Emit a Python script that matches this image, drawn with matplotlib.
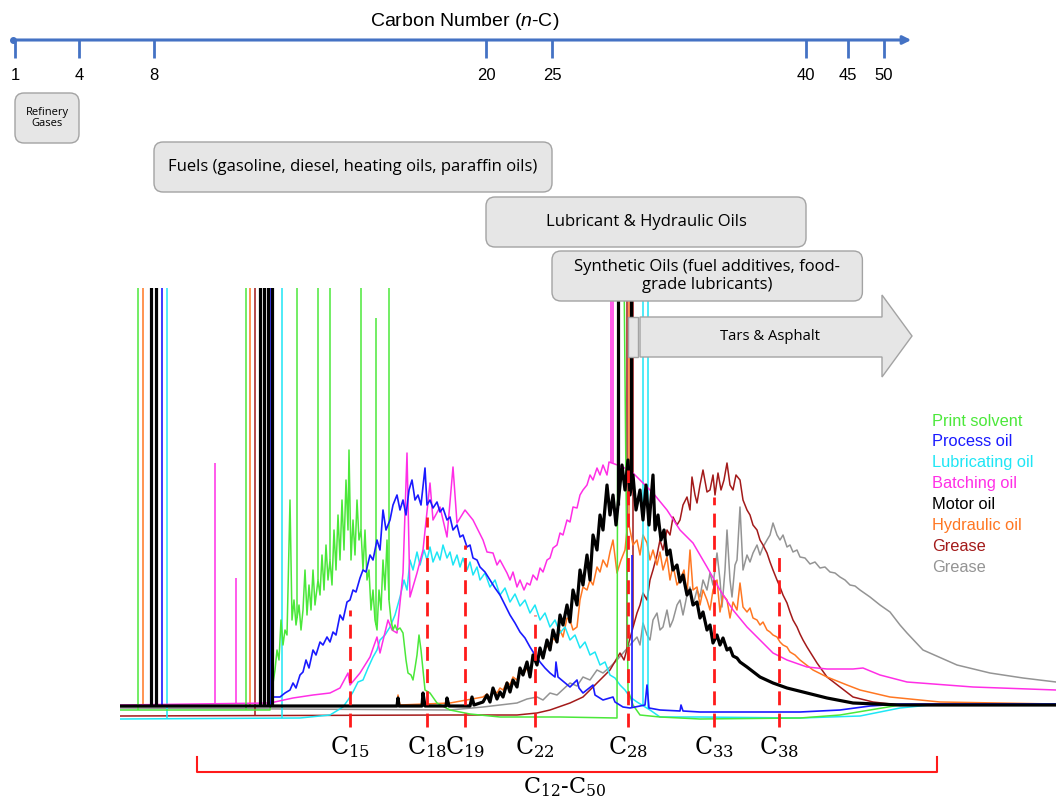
import matplotlib.pyplot as plt
import numpy as np
from matplotlib.patches import FancyBboxPatch, Polygon, Rectangle, FancyArrowPatch

plt.rcParams['font.family'] = ['Liberation Sans', 'DejaVu Sans']
plt.rcParams['mathtext.fontset'] = 'custom'
plt.rcParams['mathtext.rm'] = 'Liberation Sans'
plt.rcParams['mathtext.it'] = 'Liberation Sans:italic'

# carbon number scale along the top
carbon_ticks = [1, 4, 8, 20, 25, 40, 45, 50]
tick_px = [15, 79, 154, 486, 552, 806, 848, 884]

# product classes and their carbon ranges
products = ['Refinery\nGases',
            'Fuels (gasoline, diesel, heating oils, paraffin oils)',
            'Lubricant & Hydraulic Oils',
            'Synthetic Oils (fuel additives, food-\ngrade lubricants)']
prod_start = [1, 8, 20, 25]
prod_end = [4, 25, 40, 47]

# chromatogram traces (retention, response)
green_t = [120, 270, 272, 275, 277, 279, 281, 283, 285, 287, 290, 292, 294, 296, 299, 301, 303, 305, 307, 309,
           311, 313, 315, 318, 320, 322, 324, 326, 328, 330, 332, 334, 336, 338, 340, 342, 344, 346, 348, 349,
           351, 353, 355, 357, 359, 361, 363, 365, 367, 369, 371, 373, 375, 377, 379, 381, 383, 385, 387, 389,
           391, 393, 395, 397, 400, 403, 406, 408, 411, 413, 415, 417, 419, 421, 423, 425, 430, 437, 450, 470,
           500, 560, 617, 618, 624, 628, 633, 640, 660, 700, 800, 840, 870, 900, 1056]
green_r = [20, 20, 40, 60, 80, 70, 110, 85, 100, 95, 230, 110, 130, 105, 125, 100, 120, 160, 115, 145,
           120, 160, 125, 150, 135, 175, 140, 185, 150, 170, 145, 200, 160, 215, 170, 230, 180, 250, 200, 280,
           170, 210, 175, 230, 190, 200, 160, 200, 150, 160, 120, 140, 110, 100, 140, 120, 170, 140, 190, 130,
           110, 100, 105, 100, 102, 97, 70, 57, 55, 50, 62, 75, 95, 80, 60, 40, 37, 27, 20, 16,
           13, 13, 12, 460, 460, 40, 25, 15, 13, 11, 12, 15, 20, 25, 26]

blue_t = [120, 270, 273, 280, 285, 290, 293, 296, 300, 303, 306, 309, 313, 316, 320, 323, 327, 330, 333, 336,
          340, 343, 347, 350, 353, 356, 360, 363, 366, 370, 373, 377, 380, 383, 386, 390, 393, 397, 400, 403,
          406, 409, 412, 415, 418, 421, 425, 427, 430, 433, 437, 440, 443, 447, 450, 453, 457, 460, 463, 467,
          470, 473, 477, 480, 485, 490, 495, 500, 505, 510, 515, 520, 525, 530, 535, 540, 545, 550, 555, 556,
          558, 570, 577, 579, 583, 593, 595, 603, 613, 615, 623, 630, 645, 647, 649, 660, 680, 681, 683, 700,
          800, 840, 870, 900, 1056]
blue_r = [24, 24, 33, 33, 37, 40, 47, 42, 55, 58, 70, 62, 80, 75, 88, 85, 93, 88, 98, 95,
          115, 110, 128, 130, 140, 138, 152, 160, 158, 175, 170, 190, 180, 220, 200, 210, 225, 235, 220, 230,
          215, 240, 250, 230, 235, 225, 262, 225, 230, 222, 228, 218, 222, 210, 213, 200, 205, 193, 195, 183,
          185, 172, 170, 163, 158, 150, 142, 135, 125, 115, 107, 98, 92, 83, 75, 68, 62, 57, 53, 68,
          53, 43, 50, 42, 37, 45, 35, 30, 33, 28, 23, 22, 25, 45, 22, 20, 19, 25, 19, 18,
          18, 20, 24, 26, 26]

cyan_t = [120, 300, 330, 343, 348, 353, 358, 363, 368, 373, 377, 380, 385, 390, 395, 400, 404, 407, 410, 413,
          417, 420, 424, 427, 430, 433, 437, 440, 443, 447, 450, 453, 457, 460, 463, 467, 470, 473, 477, 480,
          485, 490, 495, 500, 505, 510, 515, 520, 525, 530, 535, 540, 545, 550, 555, 560, 565, 570, 575, 580,
          585, 590, 595, 600, 605, 610, 615, 620, 625, 630, 637, 650, 660, 700, 800, 860, 900, 930, 1056]
cyan_r = [11, 12, 15, 23, 30, 38, 48, 50, 62, 73, 80, 90, 95, 103, 115, 133, 150, 140, 170, 160,
          178, 165, 180, 170, 183, 168, 178, 170, 185, 172, 178, 165, 175, 163, 172, 160, 168, 155, 163, 150,
          157, 143, 150, 135, 142, 128, 136, 124, 130, 117, 125, 110, 117, 103, 110, 97, 103, 90, 95, 82,
          88, 75, 78, 65, 68, 55, 52, 45, 40, 33, 28, 20, 13, 13, 12, 14, 22, 25, 26]

magenta_t = [120, 270, 293, 313, 330, 340, 348, 350, 360, 370, 377, 380, 388, 392, 397, 403, 407, 410, 417, 423,
             430, 433, 440, 447, 453, 457, 465, 473, 483, 487, 493, 497, 500, 507, 510, 513, 517, 520, 524, 527,
             530, 533, 537, 540, 543, 547, 550, 553, 557, 560, 563, 567, 570, 573, 577, 580, 583, 587, 590, 593,
             597, 600, 603, 607, 609, 623, 633, 640, 653, 667, 680, 693, 707, 720, 733, 747, 760, 773, 787, 807,
             827, 853, 863, 880, 907, 973, 1056]
magenta_r = [25, 27, 32, 35, 37, 42, 57, 45, 57, 73, 93, 77, 110, 100, 97, 157, 277, 133, 157, 180,
             247, 210, 223, 193, 263, 207, 220, 210, 190, 178, 177, 165, 170, 157, 150, 158, 143, 150, 140, 147,
             145, 155, 150, 162, 158, 170, 172, 182, 185, 197, 195, 210, 208, 223, 222, 235, 240, 245, 255, 250,
             262, 255, 265, 255, 268, 263, 257, 250, 237, 220, 200, 187, 163, 140, 120, 103, 90, 77, 70, 63,
             61, 61, 62, 55, 48, 43, 40]

black_t = [120, 397, 398, 399, 422, 423, 425, 446, 447, 449, 470, 472, 474, 483, 487, 490, 493, 497, 500, 503,
           507, 510, 513, 517, 520, 523, 527, 530, 533, 537, 540, 543, 547, 550, 553, 557, 560, 563, 567, 570,
           573, 577, 580, 583, 587, 590, 593, 597, 600, 603, 607, 610, 613, 616, 622, 625, 628, 630, 633, 636,
           640, 643, 646, 649, 653, 655, 658, 661, 664, 667, 670, 673, 677, 680, 683, 687, 690, 693, 697, 700,
           703, 707, 710, 713, 717, 720, 723, 727, 730, 733, 737, 740, 747, 760, 773, 787, 807, 827, 853, 900,
           1056]
black_r = [24, 24, 32, 24, 24, 37, 24, 24, 32, 24, 24, 33, 25, 28, 35, 28, 42, 31, 38, 33,
           47, 38, 50, 43, 62, 55, 68, 53, 75, 65, 82, 72, 90, 80, 100, 88, 115, 105, 125, 108,
           140, 125, 160, 145, 175, 150, 195, 180, 215, 200, 245, 215, 235, 205, 265, 240, 270, 235, 255, 220,
           240, 210, 245, 205, 255, 200, 215, 190, 200, 175, 180, 160, 165, 148, 155, 135, 140, 125, 128, 112,
           118, 100, 105, 87, 95, 85, 92, 80, 82, 74, 72, 68, 63, 53, 47, 42, 37, 32, 27, 25,
           25]

orange_t = [120, 397, 398, 400, 450, 483, 487, 490, 493, 497, 500, 503, 507, 510, 513, 517, 520, 523, 527, 530,
            533, 537, 540, 543, 547, 550, 553, 557, 560, 563, 567, 570, 573, 577, 580, 583, 587, 590, 593, 597,
            600, 603, 607, 610, 613, 617, 621, 625, 628, 630, 633, 637, 640, 643, 647, 650, 653, 657, 660, 663,
            667, 670, 673, 677, 680, 684, 687, 690, 693, 697, 700, 703, 707, 710, 713, 717, 720, 723, 727, 730,
            733, 737, 740, 743, 747, 750, 753, 757, 760, 763, 767, 770, 773, 777, 780, 783, 787, 790, 795, 800,
            813, 827, 847, 860, 890, 940, 1056]
orange_r = [24, 24, 35, 25, 27, 33, 36, 32, 40, 37, 42, 40, 48, 45, 53, 50, 58, 55, 62, 57,
            72, 70, 78, 75, 85, 80, 92, 88, 100, 93, 112, 110, 100, 103, 130, 143, 140, 150, 145, 163,
            158, 170, 163, 178, 190, 157, 170, 180, 210, 200, 185, 190, 175, 195, 187, 170, 180, 165, 178, 160,
            173, 150, 165, 145, 150, 160, 135, 180, 140, 143, 125, 140, 130, 120, 140, 150, 118, 135, 130, 112,
            128, 120, 147, 123, 118, 122, 112, 110, 105, 108, 100, 98, 95, 93, 88, 85, 83, 78, 75, 70,
            60, 53, 45, 40, 33, 28, 26]

brown_t = [120, 450, 517, 537, 550, 570, 583, 597, 610, 620, 624, 637, 640, 643, 647, 650, 653, 657, 660, 663,
           667, 670, 673, 677, 680, 683, 687, 690, 692, 695, 697, 700, 703, 707, 710, 713, 715, 718, 721, 724,
           727, 730, 733, 736, 740, 743, 747, 750, 753, 757, 760, 763, 767, 770, 773, 777, 780, 783, 787, 790,
           793, 797, 800, 803, 807, 817, 827, 840, 853, 873, 900, 1056]
brown_r = [14, 15, 15, 17, 20, 27, 33, 47, 60, 77, 70, 117, 125, 137, 130, 150, 160, 175, 190, 180,
           200, 195, 213, 205, 210, 225, 233, 220, 253, 235, 227, 245, 260, 238, 240, 255, 235, 257, 240, 250,
           267, 245, 240, 255, 250, 230, 220, 215, 205, 200, 190, 185, 177, 168, 160, 150, 143, 135, 127, 118,
           110, 103, 96, 90, 83, 67, 53, 43, 33, 28, 25, 25]

gray_t = [120, 450, 483, 517, 527, 537, 543, 550, 557, 570, 577, 583, 590, 597, 603, 610, 617, 637, 640, 643,
          647, 650, 653, 657, 660, 663, 667, 670, 673, 677, 680, 683, 687, 690, 693, 697, 700, 703, 707, 710,
          713, 717, 720, 722, 725, 727, 730, 732, 735, 737, 740, 743, 747, 750, 753, 757, 760, 763, 767, 770,
          773, 777, 780, 783, 787, 790, 793, 797, 800, 805, 810, 815, 820, 825, 830, 835, 840, 845, 850, 855,
          860, 870, 880, 890, 900, 907, 923, 957, 990, 1023, 1056]
gray_r = [22, 20, 23, 27, 31, 33, 30, 37, 35, 47, 44, 53, 50, 60, 57, 63, 70, 93, 85, 107,
          95, 90, 110, 117, 100, 103, 120, 103, 110, 125, 130, 115, 135, 143, 125, 140, 133, 150, 140, 157,
          145, 177, 150, 123, 160, 200, 150, 133, 165, 170, 223, 160, 175, 168, 177, 185, 175, 183, 190, 195,
          207, 195, 190, 195, 183, 185, 178, 180, 173, 172, 166, 168, 162, 163, 158, 157, 153, 150, 145, 144,
          140, 133, 125, 118, 105, 97, 80, 65, 57, 52, 48]

# off-scale / narrow peaks (retention, height)
green_spk_t = [138, 246, 297, 318, 330, 361, 376, 389]
green_spk_h = [460, 460, 460, 460, 460, 460, 412, 460]
blue_spk_t = [162, 270, 632]
blue_spk_h = [460, 460, 175]
cyan_spk_t = [167, 282, 643, 648]
cyan_spk_h = [460, 460, 460, 460]
magenta_spk_t = [215, 236, 611, 613]
magenta_spk_h = [267, 152, 460, 460]
black_spk_t = [151, 156, 260, 264, 268, 272, 618, 631]
black_spk_h = [460, 460, 460, 460, 460, 460, 460, 460]
orange_spk_t = [143, 250, 629]
orange_spk_h = [460, 460, 460]
brown_spk_t = [255, 627, 633]
brown_spk_h = [460, 460, 460]

samples = ['Print solvent', 'Process oil', 'Lubricating oil', 'Batching oil',
           'Motor oil', 'Hydraulic oil', 'Grease', 'Grease']
colors = ['#4be83a', '#1a1aff', '#1ee6f5', '#ff2ee6', '#000000', '#ff7722', '#a31a1a', '#949494']

# n-alkane markers
marker_c = [15, 18, 19, 22, 28, 33, 38]
marker_t = [350, 427, 465, 535, 628, 714, 779]
marker_h = [120, 213, 185, 115, 260, 233, 177]

fig = plt.figure(figsize=(10.56, 8.02), dpi=100)

# chromatogram
ax = fig.add_axes([120 / 1056, 72 / 802, 936 / 1056, 442 / 802])
ax.set_xlim(120, 1056)
ax.set_ylim(0, 442)
ax.axis('off')

traces = [
    (gray_t, gray_r, [], [], colors[7], 1.1),
    (brown_t, brown_r, brown_spk_t, brown_spk_h, colors[6], 1.1),
    (orange_t, orange_r, orange_spk_t, orange_spk_h, colors[5], 1.1),
    (cyan_t, cyan_r, cyan_spk_t, cyan_spk_h, colors[2], 1.1),
    (magenta_t, magenta_r, magenta_spk_t, magenta_spk_h, colors[3], 1.1),
    (green_t, green_r, green_spk_t, green_spk_h, colors[0], 1.1),
    (blue_t, blue_r, blue_spk_t, blue_spk_h, colors[1], 1.2),
    (black_t, black_r, black_spk_t, black_spk_h, colors[4], 2.3),
]
for t, r, st, sh, c, lw in traces:
    ax.plot(t, r, color=c, lw=lw)
    if st:
        ax.vlines(st, np.interp(st, t, r), sh, colors=c, lw=lw)

ax.vlines(marker_t, 3, marker_h, colors='#ff1a1a', lw=2, linestyles=(0, (5, 3)), zorder=5)
for c, t in zip(marker_c, marker_t):
    ax.text(t, -4, 'C$_{%d}$' % c, ha='center', va='top', fontsize=17,
            family='DejaVu Serif', math_fontfamily='dejavuserif')

# annotation layer in pixel units
ov = fig.add_axes([0, 0, 1, 1])
ov.set_xlim(0, 1056)
ov.set_ylim(802, 0)
ov.axis('off')
ov.patch.set_visible(False)

axis_blue = '#4472c4'
ov.add_patch(FancyArrowPatch((13, 40), (914, 40), arrowstyle='-|>', mutation_scale=12,
                             color=axis_blue, lw=2.2))
ov.plot(13, 40, 'o', color=axis_blue, ms=4)
ov.vlines(tick_px, 40, 58, colors=axis_blue, lw=2)
for c, p in zip(carbon_ticks, tick_px):
    ov.text(p, 75, str(c), ha='center', va='center', fontsize=12)
ov.text(465, 22, 'Carbon Number ($n$-C)', ha='center', va='center', fontsize=14)

box_top = [93, 142, 197, 251]
box_h = 50
box_fs = [8, 12, 12, 12]
for name, a, b, y0, fs in zip(products, prod_start, prod_end, box_top, box_fs):
    x0 = np.interp(a, carbon_ticks, tick_px)
    x1 = np.interp(b, carbon_ticks, tick_px)
    ov.add_patch(FancyBboxPatch((x0, y0), x1 - x0, box_h, boxstyle='round,pad=0,rounding_size=9',
                                fc='#e6e6e6', ec='#a3a3a3', lw=1))
    ov.text((x0 + x1) / 2, y0 + box_h / 2, name, ha='center', va='center', fontsize=fs,
            family=['Open Sans', 'DejaVu Sans'], linespacing=1.1)

# tars & asphalt arrow
ov.add_patch(Rectangle((628, 317), 10, 40, fc='#e6e6e6', ec='#a3a3a3', lw=1))
ov.add_patch(Polygon([(640, 317), (882, 317), (882, 295), (912, 336), (882, 377), (882, 357), (640, 357)],
                     closed=True, fc='#e6e6e6', ec='#a3a3a3', lw=1))
ov.text(770, 336, 'Tars & Asphalt', ha='center', va='center', fontsize=10.7,
        family=['Open Sans', 'DejaVu Sans'])

# legend
for i, (s, c) in enumerate(zip(samples, colors)):
    ov.text(932, 421 + i * 20.9, s, color=c, fontsize=11.8, va='center', ha='left')

# C12-C50 bracket
ov.plot([197, 197, 937, 937], [757, 772, 772, 757], color='#ff1a1a', lw=1.5)
ov.text(565, 775, 'C$_{12}$-C$_{50}$', ha='center', va='top', fontsize=16,
        family='DejaVu Serif', math_fontfamily='dejavuserif')

fig.savefig('out.png', dpi=100)
